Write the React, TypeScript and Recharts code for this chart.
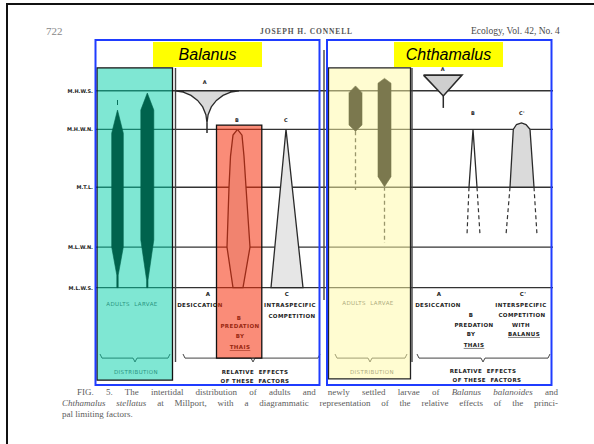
import React from "react";
import { ScatterChart, Scatter, XAxis, YAxis } from "recharts";

type Pt = { x: number; y: number };
type Tag = { x: number; y: number; text: string; underline?: boolean };

// vertical axis: height on the shore, feet above chart datum
const Y_MIN = -7.1;
const Y_MAX = 15.9;

const tideLevels = [
  { name: "M.H.W.S.", ft: 11.2 },
  { name: "M.H.W.N.", ft: 9.2 },
  { name: "M.T.L.", ft: 6.2 },
  { name: "M.L.W.N.", ft: 3.1 },
  { name: "M.L.W.S.", ft: 1.0 },
];
const tideLineFrom = 96;
const tideLineTo = 553;

// Balanus: distribution of adults and larvae
const balanusAdults: Pt[] = [
  { x: 117.5, y: 10.2 }, { x: 123.3, y: 9.0 }, { x: 123.3, y: 3.1 }, { x: 118.2, y: 1.65 },
  { x: 118.2, y: 1.0 }, { x: 116.8, y: 1.0 }, { x: 116.8, y: 1.65 }, { x: 111.7, y: 3.1 },
  { x: 111.7, y: 9.0 }, { x: 117.5, y: 10.2 },
];
const balanusAdultsTick: Pt[] = [{ x: 117.5, y: 10.72 }, { x: 117.5, y: 10.46 }];
const balanusLarvae: Pt[] = [
  { x: 147.3, y: 11.08 }, { x: 153.8, y: 10.2 }, { x: 153.8, y: 3.47 }, { x: 148, y: 1.4 },
  { x: 148, y: 1.0 }, { x: 146.6, y: 1.0 }, { x: 146.6, y: 1.4 }, { x: 140.8, y: 3.47 },
  { x: 140.8, y: 10.2 }, { x: 147.3, y: 11.08 },
];

// Balanus: relative effects (A desiccation, B predation, C intraspecific competition)
const balanusDesiccation: Pt[] = [
  { x: 175, y: 11.19 }, { x: 183.3, y: 11.13 }, { x: 191, y: 10.96 }, { x: 197.6, y: 10.7 },
  { x: 202.7, y: 10.36 }, { x: 205.9, y: 9.96 }, { x: 207, y: 9.53 }, { x: 208.1, y: 9.96 },
  { x: 211.3, y: 10.36 }, { x: 216.4, y: 10.7 }, { x: 223, y: 10.96 }, { x: 230.7, y: 11.13 },
  { x: 239, y: 11.19 }, { x: 175, y: 11.19 },
];
const balanusDesiccationStem: Pt[] = [{ x: 207, y: 9.53 }, { x: 207, y: 9.01 }];
const balanusPredation: Pt[] = [
  { x: 237.5, y: 9.2 }, { x: 233, y: 8.9 }, { x: 230.5, y: 7.8 }, { x: 229, y: 6.2 },
  { x: 227, y: 3.1 }, { x: 233, y: 1.0 }, { x: 243, y: 1.0 }, { x: 250, y: 3.1 },
  { x: 246, y: 6.2 }, { x: 244, y: 7.8 }, { x: 242, y: 8.9 }, { x: 237.5, y: 9.2 },
];
const balanusCompetition: Pt[] = [
  { x: 286, y: 9.2 }, { x: 303, y: 1.0 }, { x: 271, y: 1.0 }, { x: 286, y: 9.2 },
];

// Chthamalus: distribution of adults and larvae
const chthamalusAdults: Pt[] = [
  { x: 355.5, y: 11.45 }, { x: 362, y: 11.1 }, { x: 362, y: 9.42 }, { x: 355.5, y: 9.1 },
  { x: 349, y: 9.42 }, { x: 349, y: 11.1 }, { x: 355.5, y: 11.45 },
];
const chthamalusAdultsTrail: Pt[] = [{ x: 355.5, y: 9.1 }, { x: 355.5, y: 6.06 }];
const chthamalusLarvae: Pt[] = [
  { x: 384.5, y: 11.84 }, { x: 391, y: 11.59 }, { x: 391, y: 6.75 }, { x: 384.5, y: 6.23 },
  { x: 378, y: 6.75 }, { x: 378, y: 11.59 }, { x: 384.5, y: 11.84 },
];
const chthamalusLarvaeTrail: Pt[] = [{ x: 384.5, y: 6.23 }, { x: 384.5, y: 3.31 }];

// Chthamalus: relative effects
const chthamalusDesiccation: Pt[] = [
  { x: 423.5, y: 12.01 }, { x: 462, y: 12.01 }, { x: 443.3, y: 10.93 }, { x: 423.5, y: 12.01 },
];
const chthamalusDesiccationStem: Pt[] = [{ x: 443.3, y: 10.93 }, { x: 443.3, y: 10.31 }];
const chthamalusPredation: Pt[] = [
  { x: 473, y: 9.2 }, { x: 477, y: 6.2 }, { x: 469, y: 6.2 }, { x: 473, y: 9.2 },
];
const chthamalusPredationTrails: Pt[][] = [
  [{ x: 469, y: 6.2 }, { x: 467, y: 3.73 }],
  [{ x: 477, y: 6.2 }, { x: 480, y: 3.73 }],
];
const chthamalusCompetition: Pt[] = [
  { x: 510, y: 6.2 }, { x: 513.3, y: 9.2 }, { x: 516.5, y: 9.45 }, { x: 521.5, y: 9.53 },
  { x: 526, y: 9.45 }, { x: 530, y: 9.2 }, { x: 534, y: 6.2 }, { x: 510, y: 6.2 },
];
const chthamalusCompetitionTrails: Pt[][] = [
  [{ x: 510, y: 6.2 }, { x: 506, y: 3.73 }],
  [{ x: 534, y: 6.2 }, { x: 537, y: 3.73 }],
];

// frame lines of the figure
const dividers: Pt[][] = [
  [{ x: 175.5, y: 12.38 }, { x: 175.5, y: -2.85 }],
  [{ x: 412, y: 12.38 }, { x: 412, y: -2.85 }],
  [{ x: 324, y: 13.31 }, { x: 324, y: 0.36 }],
];
const braces: Pt[][] = [
  [{ x: 100, y: -2.44 }, { x: 102, y: -2.65 }, { x: 133, y: -2.65 }, { x: 135, y: -2.85 }, { x: 137, y: -2.65 }, { x: 168, y: -2.65 }, { x: 170, y: -2.44 }],
  [{ x: 183, y: -2.44 }, { x: 185, y: -2.65 }, { x: 251, y: -2.65 }, { x: 253, y: -2.85 }, { x: 255, y: -2.65 }, { x: 318, y: -2.65 }, { x: 320, y: -2.44 }],
  [{ x: 335, y: -2.44 }, { x: 337, y: -2.65 }, { x: 368, y: -2.65 }, { x: 370, y: -2.85 }, { x: 372, y: -2.65 }, { x: 405, y: -2.65 }, { x: 407, y: -2.44 }],
  [{ x: 417, y: -2.44 }, { x: 419, y: -2.65 }, { x: 481, y: -2.65 }, { x: 483, y: -2.85 }, { x: 485, y: -2.65 }, { x: 548, y: -2.65 }, { x: 550, y: -2.44 }],
];

const letterTags: Tag[] = [
  { x: 205, y: 11.65, text: "A" },
  { x: 237, y: 9.68, text: "B" },
  { x: 286, y: 9.68, text: "C" },
  { x: 443, y: 12.33, text: "A" },
  { x: 473, y: 10.05, text: "B" },
  { x: 522, y: 10.05, text: "C'" },
];
const effectTags: Tag[] = [
  { x: 208, y: 0.67, text: "A" },
  { x: 200, y: 0.1, text: "DESICCATION" },
  { x: 239, y: -0.57, text: "B" },
  { x: 240, y: -0.99, text: "PREDATION" },
  { x: 240, y: -1.51, text: "BY" },
  { x: 240, y: -2.08, text: "THAIS", underline: true },
  { x: 287, y: 0.67, text: "C" },
  { x: 290, y: 0.1, text: "INTRASPECIFIC" },
  { x: 292, y: -0.47, text: "COMPETITION" },
  { x: 255, y: -3.37, text: "RELATIVE  EFFECTS" },
  { x: 255, y: -3.84, text: "OF THESE  FACTORS" },
  { x: 439, y: 0.67, text: "A" },
  { x: 438, y: 0.1, text: "DESICCATION" },
  { x: 471, y: -0.42, text: "B" },
  { x: 474, y: -0.94, text: "PREDATION" },
  { x: 471, y: -1.4, text: "BY" },
  { x: 474, y: -1.97, text: "THAIS", underline: true },
  { x: 523, y: 0.67, text: "C'" },
  { x: 521, y: 0.1, text: "INTERSPECIFIC" },
  { x: 522, y: -0.42, text: "COMPETITION" },
  { x: 521, y: -0.94, text: "WITH" },
  { x: 524, y: -1.4, text: "BALANUS", underline: true },
  { x: 483, y: -3.32, text: "RELATIVE  EFFECTS" },
  { x: 487, y: -3.78, text: "OF THESE  FACTORS" },
];
const distributionTags: Tag[] = [
  { x: 132, y: 0.15, text: "ADULTS  LARVAE" },
  { x: 136, y: -3.37, text: "DISTRIBUTION" },
  { x: 368, y: 0.2, text: "ADULTS  LARVAE" },
  { x: 372, y: -3.37, text: "DISTRIBUTION" },
];
const titleTags: Tag[] = [
  { x: 207.5, y: 13.08, text: "Balanus" },
  { x: 448.5, y: 13.08, text: "Chthamalus" },
];

// overlay boxes [x0, top, x1, bottom]
const cyanBox = [97, 12.38, 172.5, -3.79];
const yellowBox = [328.5, 12.38, 410.5, -3.73];
const redBox = [216.5, 9.42, 261.8, -2.65];
const titleBoxes = [[153, 13.72, 262, 12.43], [394, 13.72, 503, 12.43]];
const blueBoxes = [[95.5, 13.83, 319.5, -4.04], [327, 13.83, 551.5, -4.04]];

const rect = (b: number[]): Pt[] => [
  { x: b[0], y: b[1] }, { x: b[2], y: b[1] }, { x: b[2], y: b[3] }, { x: b[0], y: b[3] },
  { x: b[0], y: b[1] }, { x: b[2], y: b[1] },
];

const None = () => null;

function path(key: string, data: Pt[], line: Record<string, any>) {
  return (
    <Scatter
      key={key}
      data={data}
      shape={None}
      line={{ fill: "none", ...line }}
      lineType="joint"
      isAnimationActive={false}
    />
  );
}

function tags(key: string, data: Tag[], style: Record<string, any>, anchor = "middle") {
  return (
    <Scatter
      key={key}
      data={data}
      isAnimationActive={false}
      shape={(p: any) => (
        <text
          x={p.cx}
          y={p.cy}
          textAnchor={anchor}
          dominantBaseline="central"
          textDecoration={p.payload.underline ? "underline" : undefined}
          style={{ whiteSpace: "pre" }}
          {...style}
        >
          {p.payload.text}
        </text>
      )}
    />
  );
}

const balanusInk = "#00634d";
const chthamalusInk = "#7b784e";
const smallCaps = {
  fontFamily: "'DejaVu Sans', sans-serif",
  fontWeight: 700,
  fontSize: 5.5,
  letterSpacing: 0.4,
};

export default function App() {
  const tideLines = tideLevels.map((l) => [
    { x: tideLineFrom, y: l.ft },
    { x: tideLineTo, y: l.ft },
  ]);
  const tideTags = tideLevels.map((l) => ({ x: 93, y: l.ft, text: l.name }));

  const serif = "'Liberation Serif', 'Times New Roman', serif";
  const caption = {
    position: "absolute" as const,
    fontFamily: serif,
    fontSize: 9,
    lineHeight: "11px",
    color: "#5c5c5c",
  };

  return (
    <div
      style={{
        position: "fixed",
        left: 0,
        top: 0,
        width: 594,
        height: 444,
        overflow: "hidden",
        background: "#fff",
      }}
    >
      <div
        style={{
          position: "absolute",
          left: 6,
          top: 3,
          width: 620,
          height: 470,
          border: "2px solid #111",
        }}
      />
      <div style={{ position: "absolute", left: 46, top: 25, fontFamily: serif, fontSize: 11, lineHeight: "12px", color: "#888" }}>
        722
      </div>
      <div
        style={{
          position: "absolute",
          left: 260,
          top: 27,
          fontFamily: serif,
          fontSize: 7.5,
          fontWeight: 700,
          lineHeight: "10px",
          letterSpacing: 0.9,
          color: "#555",
          whiteSpace: "nowrap",
        }}
      >
        JOSEPH H. CONNELL
      </div>
      <div style={{ position: "absolute", left: 471, top: 25, fontFamily: serif, fontSize: 9.5, lineHeight: "12px", color: "#4a4a4a", whiteSpace: "nowrap" }}>
        Ecology, Vol. 42, No. 4
      </div>

      <div style={{ position: "absolute", left: 0, top: 0 }}>
        <ScatterChart width={594} height={444} margin={{ top: 0, right: 0, bottom: 0, left: 0 }}>
          <XAxis type="number" dataKey="x" domain={[0, 594]} hide allowDataOverflow />
          <YAxis type="number" dataKey="y" domain={[Y_MIN, Y_MAX]} hide allowDataOverflow />

          {tideLines.map((d, i) => path(`tide-${i}`, d, { stroke: "#333", strokeWidth: 1.3 }))}
          {dividers.map((d, i) => path(`div-${i}`, d, { stroke: "#444", strokeWidth: 1.4 }))}

          {path("b-adults-tick", balanusAdultsTick, { stroke: "#111", strokeWidth: 1 })}
          {path("b-desic", balanusDesiccation, { fill: "#d9d9d9", stroke: "#2a2a2a", strokeWidth: 1.3 })}
          {path("b-desic-stem", balanusDesiccationStem, { stroke: "#2a2a2a", strokeWidth: 1.5 })}
          {path("b-pred", balanusPredation, { fill: "#ececec", stroke: "#2a2a2a", strokeWidth: 1.3 })}
          {path("b-comp", balanusCompetition, { fill: "#e6e6e6", stroke: "#2a2a2a", strokeWidth: 1.3 })}

          {path("c-adults-trail", chthamalusAdultsTrail, { stroke: "#333", strokeWidth: 1.3, strokeDasharray: "4 3" })}
          {path("c-larvae-trail", chthamalusLarvaeTrail, { stroke: "#333", strokeWidth: 1.3, strokeDasharray: "4 3" })}
          {path("c-desic", chthamalusDesiccation, { fill: "#cfcfcf", stroke: "#2a2a2a", strokeWidth: 1.6 })}
          {path("c-desic-stem", chthamalusDesiccationStem, { stroke: "#2a2a2a", strokeWidth: 1.5 })}
          {path("c-pred", chthamalusPredation, { fill: "#fff", stroke: "#2a2a2a", strokeWidth: 1.3 })}
          {chthamalusPredationTrails.map((d, i) =>
            path(`c-pred-trail-${i}`, d, { stroke: "#333", strokeWidth: 1.2, strokeDasharray: "4 3" })
          )}
          {path("c-comp", chthamalusCompetition, { fill: "#dadada", stroke: "#2a2a2a", strokeWidth: 1.3 })}
          {chthamalusCompetitionTrails.map((d, i) =>
            path(`c-comp-trail-${i}`, d, { stroke: "#333", strokeWidth: 1.2, strokeDasharray: "4 3" })
          )}
          {braces.map((d, i) => path(`brace-${i}`, d, { stroke: "#444", strokeWidth: 1 }))}

          {tags("tide-tags", tideTags, { ...smallCaps, fontSize: 5, letterSpacing: 0, fill: "#222" }, "end")}
          {tags("letter-tags", letterTags, { ...smallCaps, fontSize: 5, fill: "#222" })}
          {tags("effect-tags", effectTags, { ...smallCaps, fill: "#222" })}
          {tags("dist-tags", distributionTags, { ...smallCaps, fontWeight: 400, fill: "#555" })}

          {path("cyan", rect(cyanBox), { fill: "#00d0a8", fillOpacity: 0.5, stroke: "#111", strokeWidth: 1.3 })}
          {path("yellow", rect(yellowBox), { fill: "#fff9a3", fillOpacity: 0.5, stroke: "#222", strokeWidth: 1.3 })}
          {path("red", rect(redBox), { fill: "#f52d09", fillOpacity: 0.55, stroke: "#111", strokeWidth: 1.3 })}

          {path("b-adults", balanusAdults, { fill: balanusInk, stroke: balanusInk, strokeWidth: 0.6 })}
          {path("b-larvae", balanusLarvae, { fill: balanusInk, stroke: balanusInk, strokeWidth: 0.6 })}
          {path("c-adults", chthamalusAdults, { fill: chthamalusInk, stroke: chthamalusInk, strokeWidth: 0.6 })}
          {path("c-larvae", chthamalusLarvae, { fill: chthamalusInk, stroke: chthamalusInk, strokeWidth: 0.6 })}

          {titleBoxes.map((b, i) => path(`title-box-${i}`, rect(b), { fill: "#ffff00", stroke: "none" }))}
          {tags("titles", titleTags, {
            fontFamily: "'Liberation Sans', Arial, sans-serif",
            fontStyle: "italic",
            fontSize: 16,
            fill: "#000",
          })}
          {blueBoxes.map((b, i) => path(`blue-box-${i}`, rect(b), { stroke: "#1f3cff", strokeWidth: 2 }))}
        </ScatterChart>
      </div>

      <div style={{ ...caption, left: 77, top: 387, width: 481, textAlign: "justify", textAlignLast: "justify" }}>
        FIG. 5. The intertidal distribution of adults and newly settled larvae of{" "}
        <i>Balanus balanoides</i> and
      </div>
      <div style={{ ...caption, left: 62, top: 398, width: 496, textAlign: "justify", textAlignLast: "justify" }}>
        <i>Chthamalus stellatus</i> at Millport, with a diagrammatic representation of the relative
        effects of the princi-
      </div>
      <div style={{ ...caption, left: 62, top: 409 }}>pal limiting factors.</div>
    </div>
  );
}
